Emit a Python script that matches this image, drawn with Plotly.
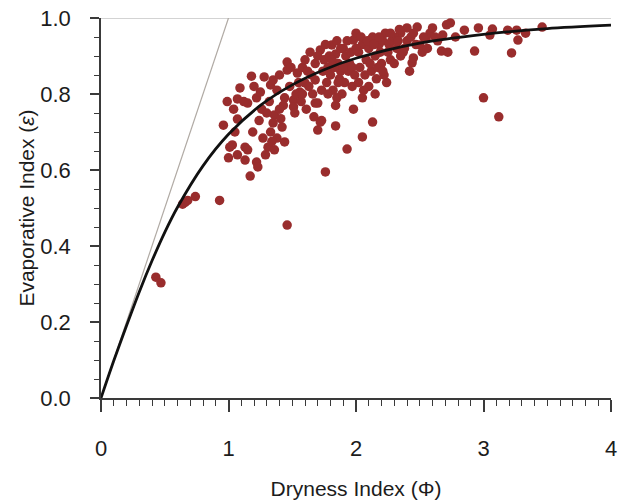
import plotly.graph_objects as go

# Catchment observations: dryness index (PET/P) and evaporative index (ET/P)
dryness = [
    0.43, 0.47, 0.64, 0.66, 0.68, 0.74, 0.93,
    0.96, 1.00, 1.03, 1.07, 1.07, 1.07, 1.09, 1.01, 1.05, 0.99, 1.04,
    1.13, 1.15, 1.13, 1.22, 1.23, 1.17, 1.29, 1.27, 1.31, 1.15, 1.22, 1.25, 1.18, 1.28, 1.20, 1.26, 1.19, 1.24,
    1.33, 1.35, 1.38, 1.44, 1.43, 1.36, 1.35, 1.42, 1.33, 1.38, 1.44, 1.36, 1.46, 1.46, 1.40, 1.48, 1.46, 1.32, 1.40, 1.41, 1.34,
    1.51, 1.51, 1.54, 1.56, 1.60, 1.64, 1.68, 1.68, 1.66, 1.70, 1.68, 1.70, 1.73, 1.72, 1.58, 1.62, 1.55, 1.60, 1.65, 1.53, 1.63, 1.57,
    1.72, 1.81, 1.84, 1.76, 1.84, 1.93, 1.84, 1.98, 1.98, 1.75, 1.78, 1.80, 1.77, 1.82, 1.86, 1.88, 1.90, 1.92, 1.95, 1.87,
    1.91, 1.94, 1.96, 1.74, 1.79, 1.83, 1.89, 1.85, 1.73, 1.97,
    2.05, 2.13, 2.05, 2.24, 2.22, 2.13, 2.05, 2.02, 2.08, 2.10, 2.15, 2.18, 2.20, 2.25, 2.28, 2.03, 2.07, 2.12, 2.17, 2.23,
    2.00, 2.27, 2.10, 2.15,
    2.35, 2.40, 2.48, 2.37, 2.44, 2.45, 2.50, 2.55, 2.40, 2.32, 2.58, 2.60, 2.42, 2.30, 2.52, 2.35,
    2.67, 2.72, 2.68, 2.71, 2.74, 2.85, 2.93, 2.96, 3.07, 3.05, 3.19, 3.26, 3.33, 3.27, 3.22, 3.46, 3.00, 3.12, 2.64, 2.78,
    1.70, 1.76, 1.85, 1.88, 1.93, 1.97, 2.00, 2.04, 2.09, 2.14, 2.19, 2.21, 2.26, 2.30, 2.33, 2.38, 2.43, 2.47, 2.53, 2.56,
    1.78, 1.81, 1.86, 1.90, 1.99, 2.02, 2.06, 2.11, 2.16, 2.21, 2.18, 2.27, 2.34, 2.45, 2.62,
    1.30, 1.12, 1.49, 1.52, 1.58, 1.61, 1.67,
]
evaporative = [
    0.318, 0.303, 0.510, 0.515, 0.520, 0.530, 0.520,
    0.718, 0.632, 0.666, 0.640, 0.734, 0.787, 0.816, 0.660, 0.700, 0.780, 0.760,
    0.660, 0.653, 0.626, 0.621, 0.608, 0.584, 0.640, 0.684, 0.660, 0.776, 0.790, 0.805, 0.847, 0.845, 0.820, 0.760, 0.700, 0.730,
    0.824, 0.837, 0.810, 0.790, 0.770, 0.745, 0.724, 0.713, 0.700, 0.684, 0.674, 0.653, 0.884, 0.863, 0.850, 0.820, 0.455, 0.780, 0.760, 0.735, 0.675,
    0.784, 0.766, 0.855, 0.805, 0.829, 0.910, 0.880, 0.837, 0.800, 0.776, 0.776, 0.705, 0.730, 0.726, 0.870, 0.860, 0.830, 0.890, 0.850, 0.800, 0.820, 0.780,
    0.916, 0.929, 0.905, 0.595, 0.716, 0.655, 0.770, 0.760, 0.942, 0.890, 0.870, 0.850, 0.830, 0.810, 0.880, 0.860, 0.920, 0.900, 0.880, 0.840,
    0.830, 0.860, 0.910, 0.860, 0.900, 0.870, 0.800, 0.790, 0.810, 0.820,
    0.687, 0.726, 0.790, 0.830, 0.850, 0.950, 0.930, 0.910, 0.890, 0.920, 0.900, 0.930, 0.880, 0.910, 0.940, 0.870, 0.850, 0.860, 0.870, 0.960,
    0.960, 0.890, 0.820, 0.800,
    0.960, 0.974, 0.976, 0.910, 0.882, 0.895, 0.929, 0.945, 0.940, 0.920, 0.960, 0.974, 0.860, 0.880, 0.910, 0.900,
    0.913, 0.910, 0.955, 0.982, 0.987, 0.968, 0.913, 0.974, 0.971, 0.955, 0.968, 0.968, 0.960, 0.942, 0.908, 0.976, 0.790, 0.740, 0.940, 0.950,
    0.900, 0.930, 0.940, 0.920, 0.940, 0.870, 0.920, 0.950, 0.940, 0.930, 0.910, 0.940, 0.930, 0.950, 0.940, 0.920, 0.950, 0.930, 0.950, 0.920,
    0.800, 0.890, 0.830, 0.870, 0.850, 0.830, 0.810, 0.880, 0.840, 0.860, 0.950, 0.960, 0.970, 0.960, 0.950,
    0.750, 0.780, 0.870, 0.750, 0.800, 0.760, 0.740,
]

# Budyko curve values along the dryness axis
curve_phi = [0.0, 0.1, 0.2, 0.3, 0.4, 0.5, 0.6, 0.8, 1.0, 1.25, 1.5, 1.75, 2.0, 2.5, 3.0, 3.5, 4.0]
curve_eps = [0.0, 0.098, 0.190, 0.279, 0.361, 0.436, 0.502, 0.611, 0.694, 0.770, 0.824,
             0.864, 0.894, 0.934, 0.957, 0.972, 0.981]

# Energy limit (epsilon = phi) and water limit (epsilon = 1)
energy_phi = [0.0, 1.0]
energy_eps = [0.0, 1.0]
water_phi = [0.0, 4.0]
water_eps = [1.0, 1.0]

x_ticks = [0, 1, 2, 3, 4]
y_ticks = [0.0, 0.2, 0.4, 0.6, 0.8, 1.0]
y_labels = ["0.0", "0.2", "0.4", "0.6", "0.8", "1.0"]

FONT = "Liberation Sans, Arial, Helvetica, sans-serif"
TEXT = "#1c1c1c"
AXIS = "#3a3a3a"

fig = go.Figure()

fig.add_trace(go.Scatter(
    x=water_phi, y=water_eps, mode="lines",
    line=dict(color="#a8a8a8", width=1), hoverinfo="skip", cliponaxis=False,
))
fig.add_trace(go.Scatter(
    x=energy_phi, y=energy_eps, mode="lines",
    line=dict(color="#b0aaa4", width=1.2), hoverinfo="skip", cliponaxis=False,
))
fig.add_trace(go.Scatter(
    x=dryness, y=evaporative, mode="markers",
    marker=dict(color="#992d2d", size=9.5, line=dict(width=0)),
    cliponaxis=False,
))
fig.add_trace(go.Scatter(
    x=curve_phi, y=curve_eps, mode="lines",
    line=dict(color="#111111", width=2.8, shape="spline", smoothing=0.8),
    cliponaxis=False,
))

fig.update_layout(
    width=619, height=500,
    margin=dict(l=101, r=8, t=18, b=102),
    paper_bgcolor="white", plot_bgcolor="white",
    showlegend=False,
    font=dict(family=FONT, color=TEXT, size=22),
)

fig.update_xaxes(
    range=[0, 4], tickvals=x_ticks, ticktext=[str(v) for v in x_ticks],
    automargin=False,
    showgrid=False, zeroline=False,
    showline=True, linecolor=AXIS, linewidth=1.5,
    ticks="outside", ticklen=12, tickwidth=1.5, tickcolor=AXIS,
    tickfont=dict(family=FONT, size=22, color=TEXT),
    ticklabelstandoff=18,
    minor=dict(dtick=0.1, tick0=0, ticks="outside", ticklen=6, tickwidth=1.2, tickcolor=AXIS),
    title=dict(text="Dryness Index (Φ)", font=dict(family=FONT, size=21, color=TEXT), standoff=22),
)
fig.update_yaxes(
    range=[0, 1], tickvals=y_ticks, ticktext=y_labels,
    automargin=False,
    showgrid=False, zeroline=False,
    showline=True, linecolor=AXIS, linewidth=1.5,
    ticks="outside", ticklen=9, tickwidth=1.5, tickcolor=AXIS,
    tickfont=dict(family=FONT, size=22, color=TEXT),
    ticklabelstandoff=15,
    minor=dict(dtick=0.05, tick0=0, ticks="outside", ticklen=5, tickwidth=1.2, tickcolor=AXIS),
    title=dict(text="Evaporative Index (<i>ε</i>)", font=dict(family=FONT, size=21, color=TEXT), standoff=0),
)

fig.write_html("out.html")
